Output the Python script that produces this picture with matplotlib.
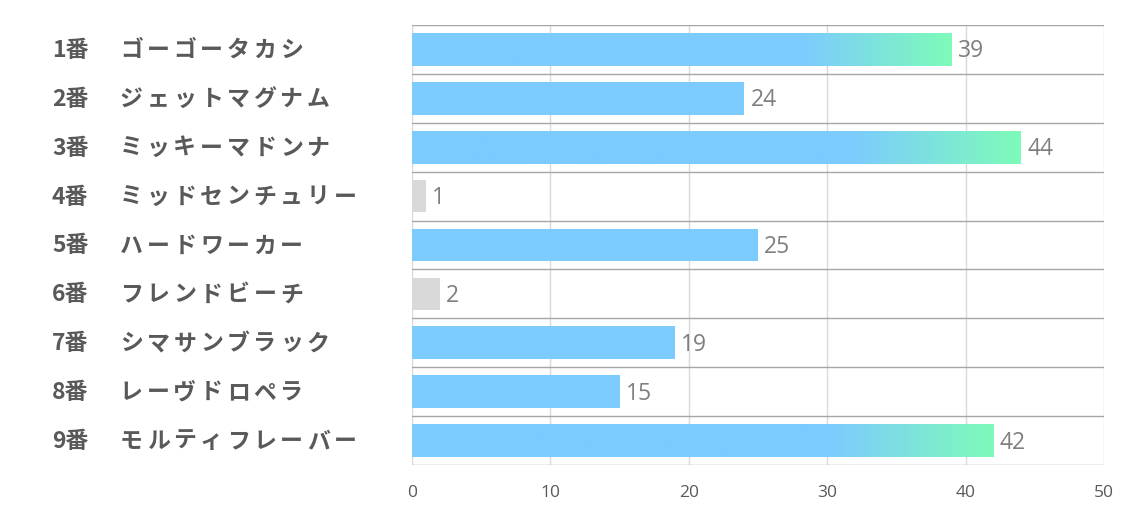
import matplotlib.pyplot as plt
import numpy as np
from matplotlib.colors import LinearSegmentedColormap

plt.rcParams['font.family'] = ['Noto Sans CJK JP', 'DejaVu Sans']

numbers = ["1番", "2番", "3番", "4番", "5番", "6番", "7番", "8番", "9番"]
names = ["ゴーゴータカシ", "ジェットマグナム", "ミッキーマドンナ",
         "ミッドセンチュリー", "ハードワーカー", "フレンドビーチ",
         "シマサンブラック", "レーヴドロペラ", "モルティフレーバー"]
values = [39, 24, 44, 1, 25, 2, 19, 15, 42]
kinds = ["grad", "blue", "grad", "gray", "blue", "gray", "blue", "blue", "grad"]

blue = "#7ccbff"
green = "#7efbb9"
gray = "#d9d9d9"

fig = plt.figure(figsize=(11.34, 5.10), dpi=100)
ax = fig.add_axes([412 / 1134, 1 - 466 / 510, 692 / 1134, 440 / 510])

n = len(values)
h = 0.67
cmap = LinearSegmentedColormap.from_list("g", [(0, blue), (0.72, blue), (1, green)])
grad = np.linspace(0, 1, 256).reshape(1, -1)

for i, (v, k) in enumerate(zip(values, kinds)):
    if k == "grad":
        ax.imshow(grad, cmap=cmap, aspect="auto", extent=[0, v, i + h / 2, i - h / 2],
                  zorder=2, interpolation="bicubic")
    else:
        ax.barh(i, v, height=h, color=blue if k == "blue" else gray, zorder=2)
    ax.text(v + 0.45, i + 0.02, str(v), va="center", ha="left", fontsize=16.5,
            color="#7f7f7f", family=["Open Sans", "DejaVu Sans"])

ax.set_xlim(0, 50)
ax.set_ylim(n - 0.5, -0.5)
for b in np.arange(-0.5, n, 1):
    ax.axhline(b, color="#a6a6a6", lw=1, zorder=3)
for x in range(0, 51, 10):
    ax.axvline(x, color="#d9d9d9", lw=1, zorder=1)

for s in ax.spines.values():
    s.set_visible(False)
ax.set_yticks([])
ax.set_xticks(range(0, 51, 10))
ax.tick_params(axis="x", length=0, pad=14, labelsize=12.5, labelcolor="#595959")
for t in ax.get_xticklabels():
    t.set_family(["Liberation Sans Narrow", "Open Sans", "DejaVu Sans"])

# row labels: number + katakana name at a fixed character pitch
pitch = 26.7
for i, (num, name) in enumerate(zip(numbers, names)):
    y = 1 - (26 + (i + 0.5) * 440 / n) / 510
    fig.text(52 / 1134, y, num, ha="left", va="center", fontsize=16.5,
             fontweight="bold", color="#595959")
    for j, ch in enumerate(name):
        fig.text((120 + j * pitch + pitch / 2 - 2) / 1134, y, ch, ha="center", va="center",
                 fontsize=16.5, fontweight="bold", color="#595959")

fig.savefig("out.png", dpi=100)
